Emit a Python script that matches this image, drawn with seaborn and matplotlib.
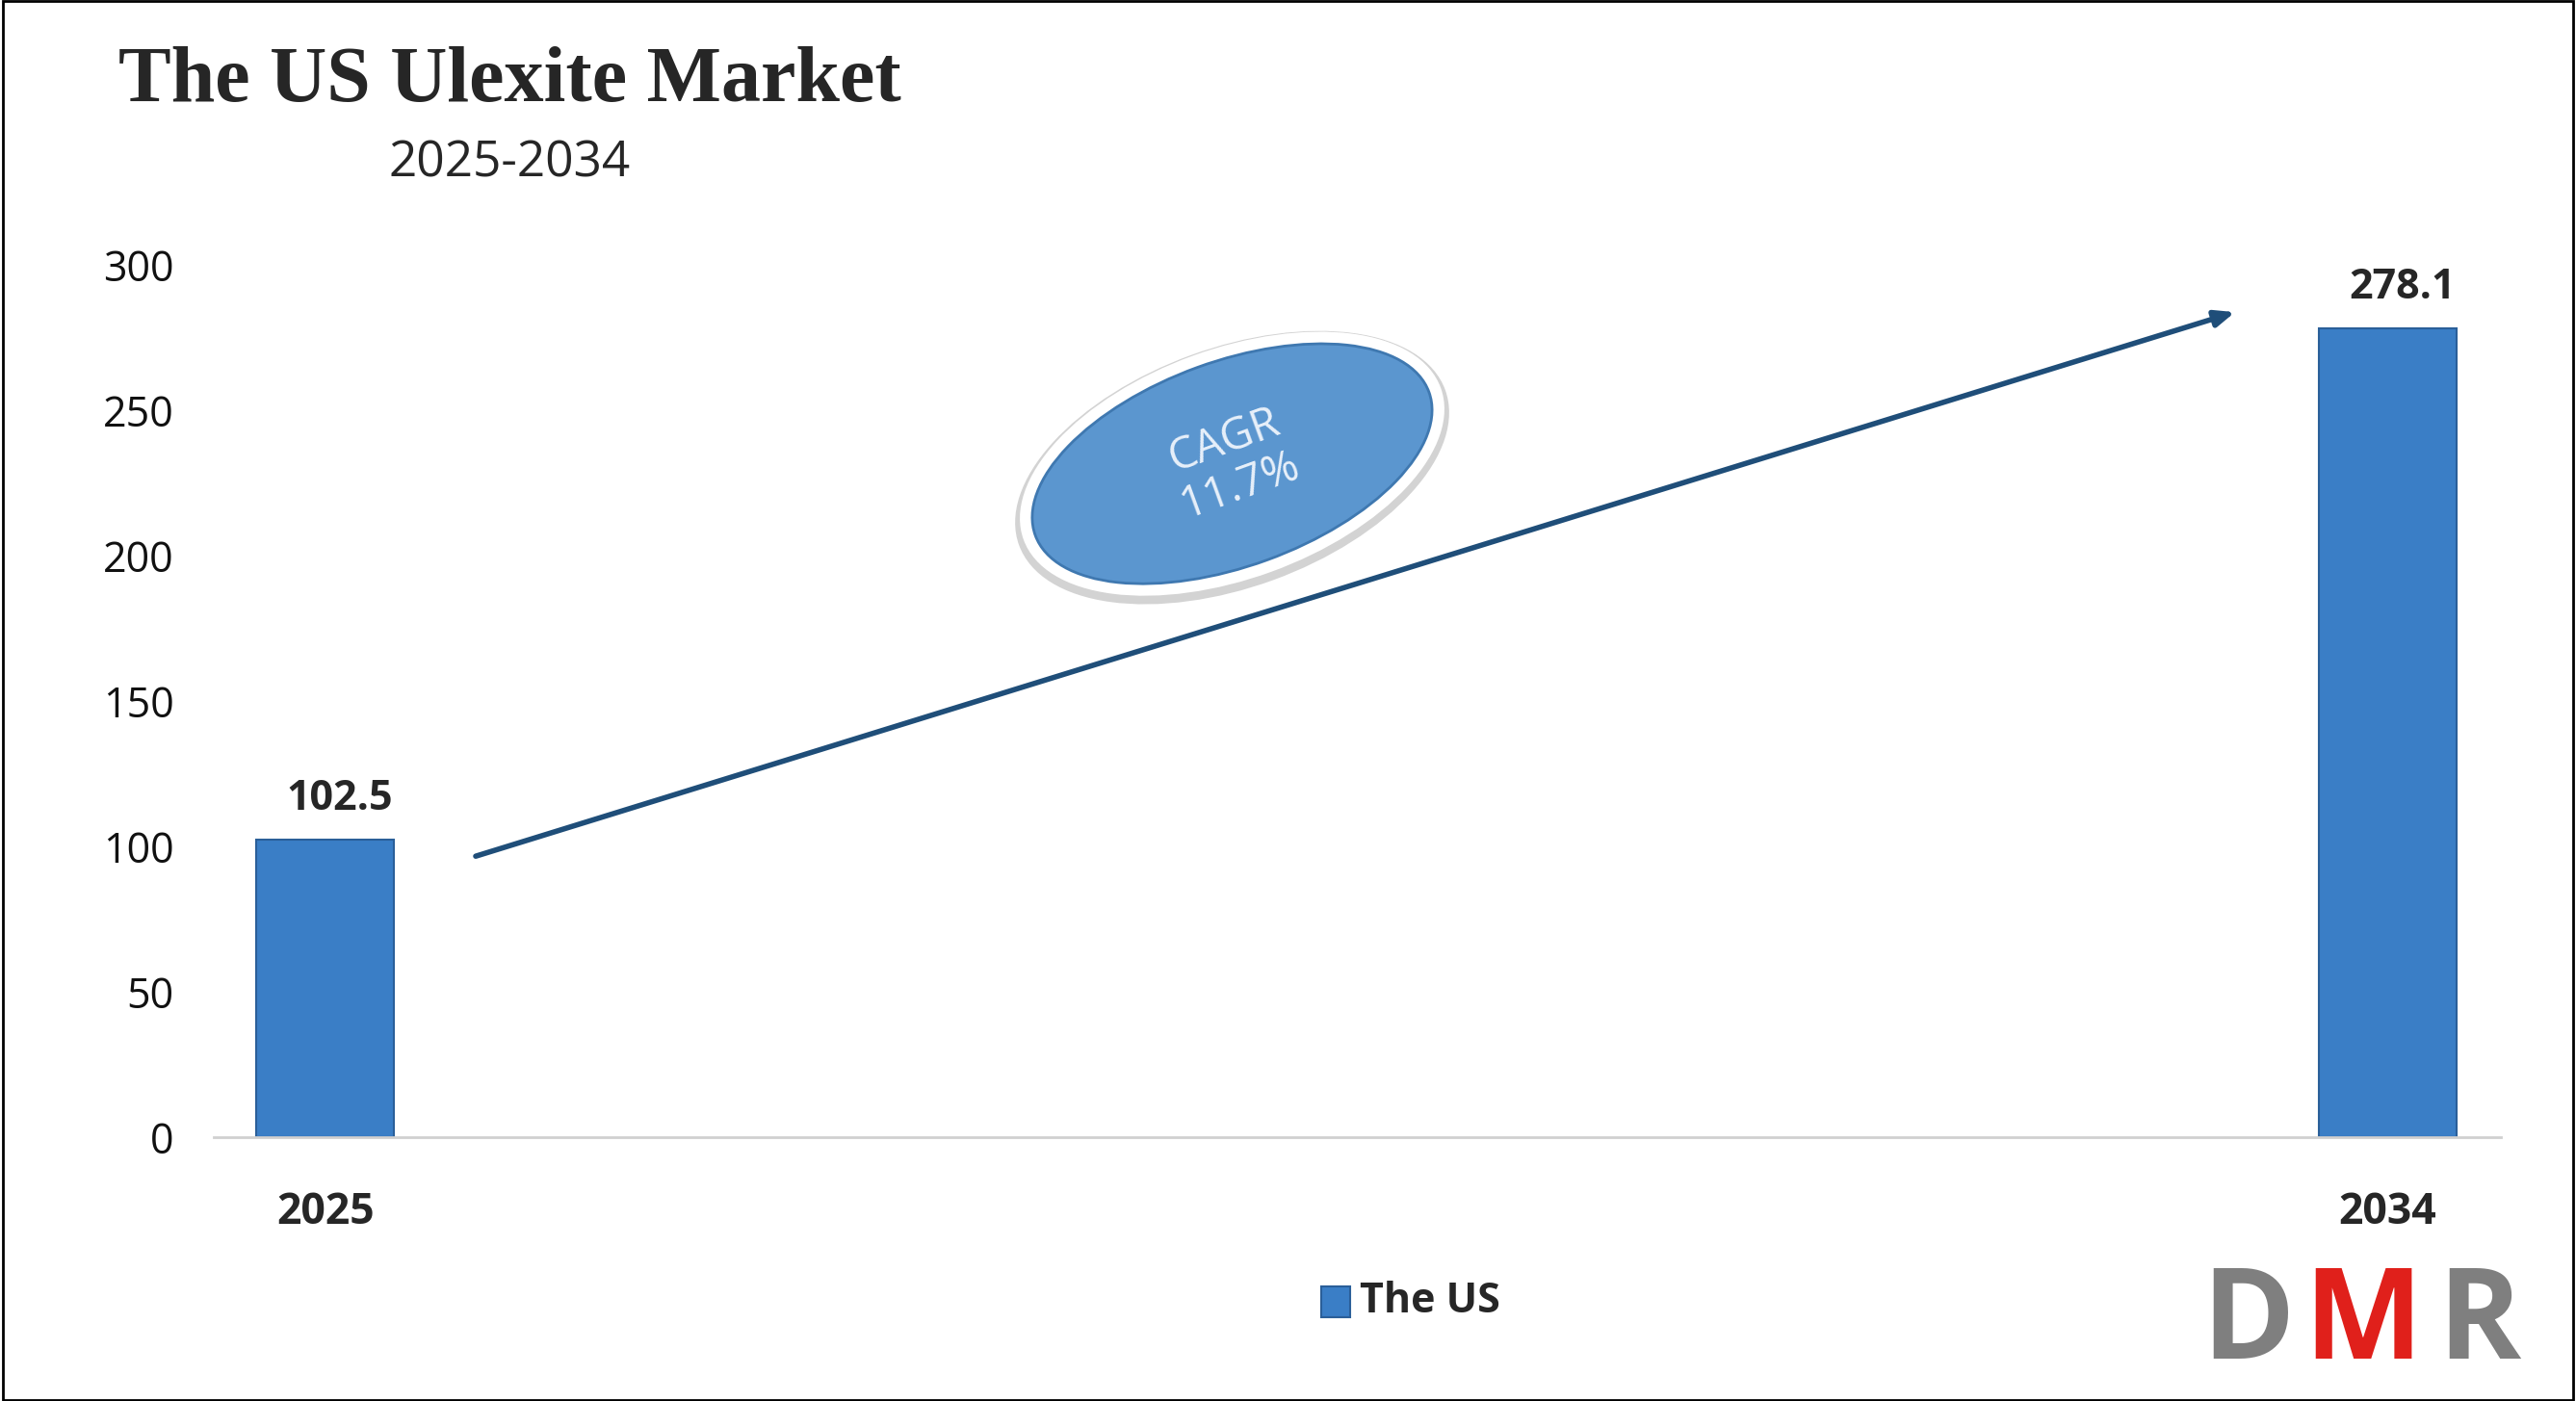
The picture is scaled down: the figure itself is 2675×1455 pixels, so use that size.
import matplotlib
matplotlib.use("Agg")
import matplotlib.pyplot as plt
import seaborn as sns
import pandas as pd
from matplotlib.patches import Ellipse, Rectangle

years = ["2025", "2034"]
values = [102.5, 278.1]
series = "The US"
yticks = [0, 50, 100, 150, 200, 250, 300]

sns.set_style("white")
plt.rcParams['font.family'] = ['Open Sans', 'DejaVu Sans']

fig = plt.figure(figsize=(26.75, 14.55), dpi=100)
ax = fig.add_axes([0.083, 0.188, 0.888, 0.623])
df = pd.DataFrame({"year": years, "value": values, "series": series})
sns.barplot(data=df, x="year", y="value", hue="series", palette=["#3a7ec6"], saturation=1,
            width=0.067, edgecolor="#2a5f99", linewidth=1.5, ax=ax, legend=False)
ax.set_xlim(-0.054, 1.055)
ax.set_ylim(0, 300)
ax.set_yticks(yticks)
ax.tick_params(axis='y', labelsize=31, length=0, pad=30, labelcolor="#111111")
ax.tick_params(axis='x', labelsize=32, length=0, pad=40)
for lab in ax.get_xticklabels():
    lab.set_fontweight('bold')
ax.set_xlabel(""); ax.set_ylabel("")
for s in ["top", "right", "left"]:
    ax.spines[s].set_visible(False)
ax.spines["bottom"].set_color("#d0d0d0")
ax.spines["bottom"].set_linewidth(2)
for i, v in enumerate(values):
    ax.text(i + 0.007, v + 7, f"{v}", ha="center", va="bottom", fontsize=31, fontweight="bold")

# legend
fig.patches.append(Rectangle((0.513, 0.060), 0.011, 0.022, transform=fig.transFigure,
                             facecolor="#3a7ec6", edgecolor="#2a5f99", lw=1.5))
fig.text(0.528, 0.071, series, fontsize=31, fontweight="bold", va="center")

# arrow
ax.annotate("", xy=(1362/1568, 1-190/855), xytext=(288/1568, 1-523/855),
            xycoords="figure fraction", textcoords="figure fraction",
            arrowprops=dict(arrowstyle="-|>,head_length=1.2,head_width=0.5", color="#1f4e79", lw=4))

# CAGR ellipse
W, H = 26.75*100, 14.55*100
cx, cy = 750/1568*W, (1-283/855)*H
ew, eh = 255/1568*W, 125/855*H
fig.patches.append(Ellipse((cx, cy-4), ew+36, eh+36, angle=20, transform=None,
                           facecolor="#c8c8c8", edgecolor="none", alpha=0.8))
fig.patches.append(Ellipse((cx, cy), ew+26, eh+26, angle=20, transform=None,
                           facecolor="white", edgecolor="none"))
fig.patches.append(Ellipse((cx, cy), ew, eh, angle=20, transform=None,
                           facecolor="#5b96cf", edgecolor="#3f78b0", lw=2))
fig.text(750/1568, 1-283/855, "CAGR\n11.7%", ha="center", va="center", rotation=20,
         fontsize=33, color="#e8f0fa", linespacing=1.1)

# titles
fig.text(72/1568, 1-50/855, "The US Ulexite Market", fontsize=59, fontweight="bold",
         family=["Liberation Serif", "DejaVu Serif"], va="center")
fig.text(310/1568, 1-100/855, "2025-2034", fontsize=37, ha="center", va="center")

# logo
for xx, ch, col in [(1340, "D", "#7f7f7f"), (1402, "M", "#e0201b"), (1484, "R", "#7f7f7f")]:
    fig.text(xx/1568, 0.03, ch, fontsize=94, fontweight="bold", color=col, va="baseline")

# border
fig.patches.append(Rectangle((0.001, 0.001), 0.998, 0.998, transform=fig.transFigure,
                             fill=False, edgecolor="black", lw=2))
fig.savefig("out.png", dpi=100)
